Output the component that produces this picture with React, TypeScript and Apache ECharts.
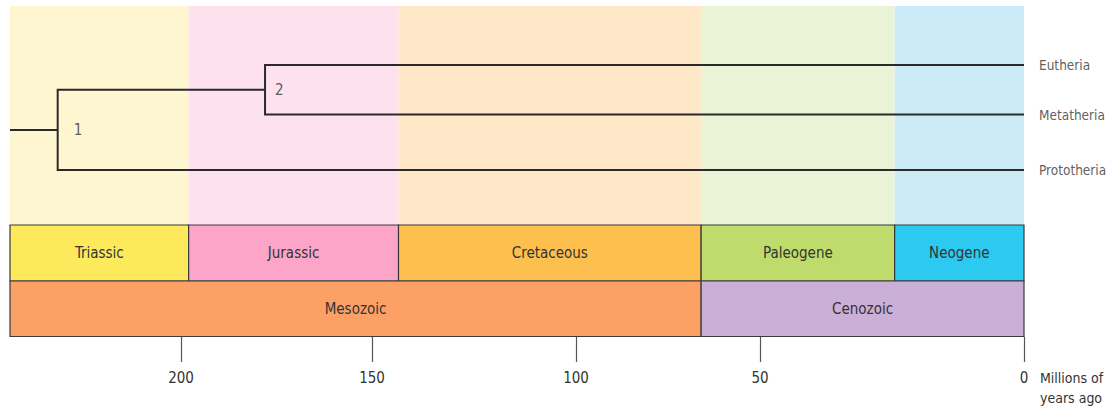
import React, { useEffect, useRef } from "react";
import * as echarts from "echarts";

// ---------- data (millions of years ago) ----------
const PERIODS = ["Triassic", "Jurassic", "Cretaceous", "Paleogene", "Neogene"];
const PERIOD_START = [252, 198, 143.5, 66, 24.5];
const PERIOD_END = [198, 143.5, 66, 24.5, 0];

const ERAS = ["Mesozoic", "Cenozoic"];
const ERA_START = [252, 66];
const ERA_END = [66, 0];

const TICK_AGES = [200, 150, 100, 50, 0];

const LINEAGES = ["Eutheria", "Metatheria", "Prototheria"];
const STEM_START_AGE = 252;
const NODE_LABELS = ["1", "2"];
const NODE_AGES = [237.5, 178]; // 1: all three lineages split, 2: Eutheria / Metatheria split

// ---------- layout / style ----------
// The illustration uses a stretched time scale: anchor ages and their positions (px along the axis)
const SCALE_AGES = [252, 200, 150, 100, 50, 0];
const SCALE_POS = [0, 171, 362, 566, 750, 1014];
const AXIS_LEN = 1014;
const GRID_H = 331;
const BG_TOP = 0;
const PERIOD_TOP = 219;
const ERA_TOP = 275;
const ERA_BOTTOM = 330.5;
const LINEAGE_Y = [59, 108.5, 164];
const NODE_LABEL_GAP = [16, 10];

const PERIOD_COLORS = ["#fde95c", "#fda5c9", "#fdc04e", "#bddc6b", "#2ccaf0"];
const PERIOD_BG = ["#fef6d1", "#fde2ee", "#fee8c7", "#ebf3d6", "#cbebf8"];
const ERA_COLORS = ["#fda066", "#cbafd6"];
const FONT = "'Liberation Sans Narrow', 'DejaVu Sans Condensed', 'Roboto Condensed', sans-serif";
const TEXT = "#333333";

function toPos(age: number): number {
  for (let i = 0; i < SCALE_AGES.length - 1; i++) {
    const a0 = SCALE_AGES[i], a1 = SCALE_AGES[i + 1];
    if (age <= a0 && age >= a1) {
      return SCALE_POS[i] + ((a0 - age) / (a0 - a1)) * (SCALE_POS[i + 1] - SCALE_POS[i]);
    }
  }
  return age > SCALE_AGES[0] ? SCALE_POS[0] : SCALE_POS[SCALE_POS.length - 1];
}

export default function App() {
  const ref = useRef<HTMLDivElement>(null);

  useEffect(() => {
    if (!ref.current) return;
    const chart = echarts.init(ref.current, undefined, { renderer: "svg" });

    const tickPos = TICK_AGES.map(toPos);

    const bandData = (starts: number[], ends: number[]) =>
      starts.map((s, i) => [toPos(s), toPos(ends[i]), i]);

    const makeBand = (
      name: string,
      starts: number[],
      ends: number[],
      labels: string[] | null,
      colors: string[],
      top: number,
      bottom: number,
      stroke: boolean
    ) => ({
      type: "custom",
      name,
      silent: true,
      data: bandData(starts, ends),
      encode: { x: [0, 1] },
      renderItem: (params: any, api: any) => {
        const i = api.value(2);
        const p0 = api.coord([api.value(0), top]);
        const p1 = api.coord([api.value(1), bottom]);
        const children: any[] = [
          {
            type: "rect",
            shape: { x: p0[0], y: p0[1], width: p1[0] - p0[0], height: p1[1] - p0[1] },
            style: {
              fill: colors[i],
              stroke: stroke ? "#3a3a3a" : "none",
              lineWidth: stroke ? 1.2 : 0,
            },
          },
        ];
        if (labels) {
          children.push({
            type: "text",
            style: {
              text: labels[i],
              x: (p0[0] + p1[0]) / 2,
              y: (p0[1] + p1[1]) / 2,
              align: "center",
              verticalAlign: "middle",
              fill: TEXT,
              fontSize: 15,
              fontFamily: FONT,
            },
          });
        }
        return { type: "group", children };
      },
      z: stroke ? 3 : 1,
    });

    const [yEu, yMeta, yProto] = LINEAGE_Y;
    const yN2 = (yEu + yMeta) / 2;
    const yN1 = (yN2 + yProto) / 2;
    const n1 = toPos(NODE_AGES[0]);
    const n2 = toPos(NODE_AGES[1]);
    const end = toPos(0);

    const treeLines = [
      { coords: [[toPos(STEM_START_AGE), yN1], [n1, yN1]] },
      { coords: [[end, yProto], [n1, yProto], [n1, yN2], [n2, yN2]] },
      { coords: [[end, yEu], [n2, yEu], [n2, yMeta], [end, yMeta]] },
    ];

    chart.setOption({
      animation: false,
      grid: {
        left: 10,
        top: 6,
        width: AXIS_LEN,
        height: GRID_H,
        containLabel: false,
        outerBoundsMode: "none",
      },
      xAxis: {
        type: "value",
        position: "bottom",
        min: 0,
        max: AXIS_LEN,
        axisLine: { show: false, onZero: false },
        splitLine: { show: false },
        axisTick: {
          show: true,
          customValues: tickPos,
          length: 25,
          lineStyle: { color: "#555555", width: 1.2 },
        },
        axisLabel: {
          show: true,
          customValues: tickPos,
          margin: 33,
          fontSize: 15,
          fontFamily: FONT,
          color: TEXT,
          formatter: (v: number) => {
            let best = 0;
            tickPos.forEach((p, i) => {
              if (Math.abs(p - v) < Math.abs(tickPos[best] - v)) best = i;
            });
            return String(TICK_AGES[best]);
          },
        },
      },
      yAxis: {
        type: "value",
        inverse: true,
        min: 0,
        max: GRID_H,
        show: false,
      },
      graphic: [
        {
          type: "text",
          left: 1040,
          top: 368,
          style: {
            text: "Millions of\nyears ago",
            fill: TEXT,
            fontSize: 14,
            fontFamily: FONT,
            lineHeight: 20,
          },
        },
      ],
      series: [
        makeBand("backgrounds", PERIOD_START, PERIOD_END, null, PERIOD_BG, BG_TOP, PERIOD_TOP, false),
        makeBand("periods", PERIOD_START, PERIOD_END, PERIODS, PERIOD_COLORS, PERIOD_TOP, ERA_TOP, true),
        makeBand("eras", ERA_START, ERA_END, ERAS, ERA_COLORS, ERA_TOP, ERA_BOTTOM, true),
        {
          type: "lines",
          coordinateSystem: "cartesian2d",
          polyline: true,
          silent: true,
          data: treeLines,
          lineStyle: { color: "#2a2a2a", width: 2, opacity: 1 },
          z: 4,
        },
        {
          type: "scatter",
          silent: true,
          symbolSize: 0,
          data: NODE_LABELS.map((t, i) => ({
            value: [toPos(NODE_AGES[i]), i === 0 ? yN1 : yN2],
            name: t,
            label: { distance: NODE_LABEL_GAP[i] },
          })),
          label: {
            show: true,
            position: "right",
            formatter: (p: any) => p.name,
            color: TEXT,
            fontSize: 15,
            fontFamily: FONT,
          },
          z: 5,
        },
        {
          type: "scatter",
          silent: true,
          symbolSize: 0,
          data: LINEAGES.map((t, i) => ({ value: [end, LINEAGE_Y[i]], name: t })),
          label: {
            show: true,
            position: "right",
            distance: 15,
            formatter: (p: any) => p.name,
            color: TEXT,
            fontSize: 13.5,
            fontFamily: FONT,
          },
          z: 5,
        },
      ],
    });

    return () => chart.dispose();
  }, []);

  return (
    <div
      ref={ref}
      style={{ position: "fixed", left: 0, top: 0, width: 1110, height: 407, background: "#ffffff" }}
    />
  );
}
